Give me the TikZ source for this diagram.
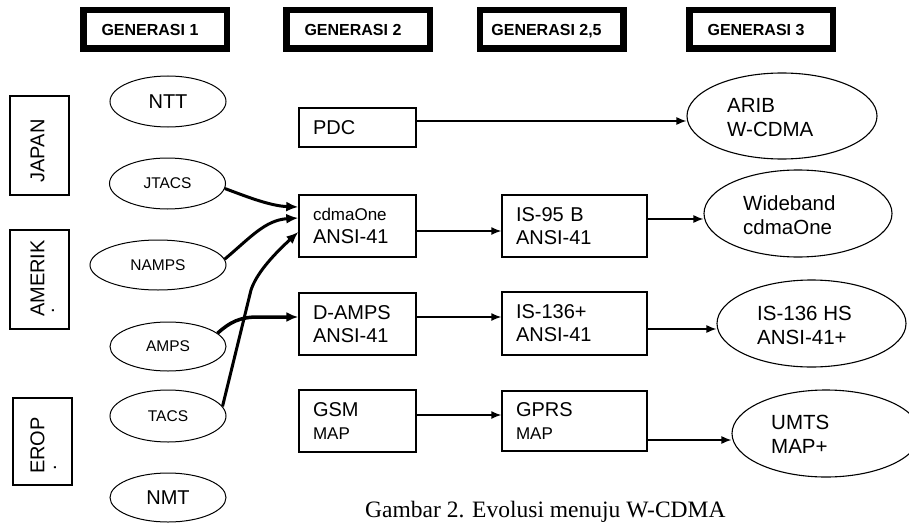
\documentclass[tikz,border=0pt]{standalone}
\usepackage{fontspec}
\setmainfont{Liberation Sans}
\newfontfamily\capfont{Liberation Serif}
\usetikzlibrary{arrows.meta,shapes.geometric}
\begin{document}
\begin{tikzpicture}[x=1pt,y=-1pt,
  hdr/.style={draw, line width=6.5pt, minimum width=143.5pt, minimum height=38.5pt, inner sep=0pt, text height=11.5pt, text depth=0pt, font=\fontsize{16}{18}\selectfont\bfseries},
  region/.style={draw, line width=1.3pt, inner sep=0pt},
  regtxt/.style={inner sep=0pt, rotate=90, font=\fontsize{20}{22}\selectfont},
  gen1/.style={draw, ellipse, line width=1pt, inner sep=0pt, minimum width=116pt, minimum height=51pt, font=\fontsize{20}{22}\selectfont},
  gen1s/.style={gen1, font=\fontsize{15.5}{17}\selectfont},
  gbox/.style={draw, line width=1.4pt, inner xsep=14pt, inner ysep=0pt, align=left, font=\fontsize{20}{23}\selectfont},
  gthree/.style={draw, ellipse, line width=1.1pt, inner sep=0pt, minimum width=189pt, minimum height=87pt},
  gthreetxt/.style={inner sep=0pt, anchor=west, align=left, font=\fontsize{20.5}{24}\selectfont},
  arr/.style={line width=1.4pt, -{Latex[length=10pt,width=8pt]}},
  thk/.style={line width=3pt, -{Latex[length=12pt,width=10pt]}},
]
\useasboundingbox (0,0) rectangle (909,524);

% headers
\node[hdr] (h1) at (155,29.5) {GENERASI 1\kern10pt};
\node[hdr] (h2) at (358,29.5) {GENERASI 2\kern10pt};
\node[hdr] (h3) at (551.5,29.5) {GENERASI 2,5\kern10pt};
\node[hdr] (h4) at (761,29.5) {GENERASI 3\kern10pt};

% regions
\node[region, minimum width=59pt, minimum height=99pt] (japan) at (39.5,145.5) {};
\node[regtxt] (japantxt) at (37.5,151) {JAPAN};
\node[region, minimum width=59pt, minimum height=99pt] (amerik) at (39.5,279.5) {};
\node[regtxt] (amerikstxt) at (37.5,278.5) {AMERIK};
\node[regtxt] (amerikdot) at (53,311) {.};
\node[region, minimum width=59pt, minimum height=87pt] (erop) at (42.5,441.5) {};
\node[regtxt] (eroptxt) at (37.5,445.5) {EROP};
\node[regtxt] (eropdot) at (55,468) {.};

% generation 1
\node[gen1] (NTT) at (168,101.5) {NTT};
\node[gen1s] (JTACS) at (167.5,183.5) {JTACS};
\node[gen1s, minimum width=136pt, minimum height=50pt] (NAMPS) at (158,265) {NAMPS};
\node[gen1s, minimum height=49pt] (AMPS) at (168,346.5) {AMPS};
\node[gen1s, minimum height=52pt] (TACS) at (168,416) {TACS};
\node[gen1, minimum height=49pt] (NMT) at (168,497.5) {NMT};

% generation 2 / 2.5
\node[gbox, text width=89pt, minimum height=39pt] (PDC) at (357.5,127.5) {PDC};
\node[gbox, text width=89pt, minimum height=62pt] (cdma) at (357.5,226) {{\fontsize{17}{17}\selectfont cdmaOne}\\ANSI-41};
\node[gbox, text width=117pt, minimum height=62pt] (is95) at (574.5,226) {IS-95 B\\ANSI-41};
\node[gbox, text width=89pt, minimum height=62pt] (damps) at (357.5,324) {D-AMPS\\ANSI-41};
\node[gbox, text width=117pt, minimum height=63pt] (is136) at (574.5,323.5) {IS-136+\\ANSI-41};
\node[gbox, text width=89pt, minimum height=62pt] (gsm) at (357.5,421) {GSM\\{\fontsize{17}{17}\selectfont MAP}};
\node[gbox, text width=117pt, minimum height=60pt] (gprs) at (574.5,421) {GPRS\\{\fontsize{17}{17}\selectfont MAP}};

% generation 3
\node[gthree, minimum width=190pt, minimum height=86pt] (ARIB) at (782,116) {};
\node[gthreetxt] (aribtxt) at (727,118) {ARIB\\W-CDMA};
\node[gthree, minimum width=188pt] (wide) at (798,213.5) {};
\node[gthreetxt] (widetxt) at (743,215.5) {Wideband\\cdmaOne};
\node[gthree] (is136hs) at (811.5,323.5) {};
\node[gthreetxt] (is136hstxt) at (757,325.5) {IS-136 HS\\ANSI-41+};
\node[gthree, minimum width=188pt] (umts) at (826,433.5) {};
\node[gthreetxt] (umtstxt) at (771,434.5) {UMTS\\MAP+};

% caption
\node[anchor=base west, inner sep=0pt, font=\capfont\fontsize{23.5}{26}\selectfont] (cap) at (365,517) {Gambar 2. Evolusi menuju W-CDMA};

% straight arrows
\draw[arr] (PDC.east |- 0,121) -- (ARIB.west |- 0,121);
\draw[arr] (cdma.east |- 0,231) -- (is95.west |- 0,231);
\draw[arr] (is95.east |- 0,219) -- (wide.west |- 0,219);
\draw[arr] (damps.east |- 0,317) -- (is136.west |- 0,317);
\draw[arr] (is136.east |- 0,329) -- (is136hs.west |- 0,329);
\draw[arr] (gsm.east |- 0,415) -- (gprs.west |- 0,415);
\draw[arr] (gprs.east |- 0,440) -- (umts.west |- 0,440);

% thick arrows from generation 1
\draw[thk] (JTACS.-5) .. controls (245,196) and (270,206) .. (cdma.west |- 0,207);
\draw[thk] (NAMPS.5) .. controls (250,238) and (265,220) .. (cdma.west |- 0,218);
\draw[thk] (TACS.10) -- (251,290) .. controls (256,275) and (270,258) .. (cdma.west |- 0,232);
\draw[thk, line width=3.5pt] (AMPS.15) .. controls (230,322) and (240,317) .. (258,317) -- (damps.west |- 0,317);
\end{tikzpicture}
\end{document}
